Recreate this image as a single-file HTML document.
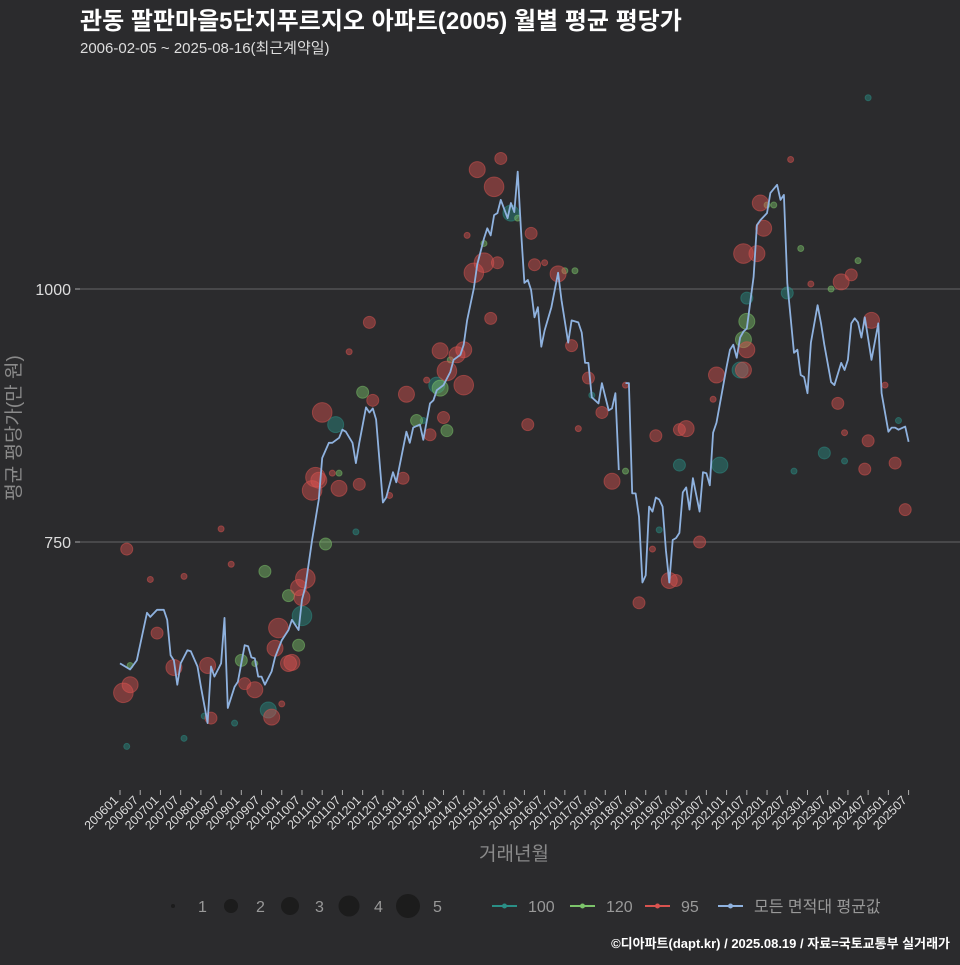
<!DOCTYPE html>
<html><head><meta charset="utf-8">
<style>
html,body{margin:0;padding:0;background:#2b2b2d;}
body{width:960px;height:960px;overflow:hidden;font-family:"Liberation Sans","Noto Sans CJK KR",sans-serif;}
svg text{font-family:"Liberation Sans","Noto Sans CJK KR",sans-serif;}
</style></head>
<body>
<svg id="chart" width="960" height="960" xmlns="http://www.w3.org/2000/svg">
<rect x="0" y="0" width="960" height="960" fill="#2b2b2d"/>
<text x="80" y="29" font-size="24" font-weight="bold" fill="#ffffff">관동 팔판마을5단지푸르지오 아파트(2005) 월별 평균 평당가</text>
<text x="80" y="53" font-size="15" fill="#dddddd">2006-02-05 ~ 2025-08-16(최근계약일)</text>
<g id="grid"></g>
<g id="yticks"></g>
<g id="xticks"></g>
<g id="bubbles"></g>
<g id="line"></g>
<text x="20" y="428" font-size="19" fill="#8a8a8a" text-anchor="middle" transform="rotate(-90 20 428)">평균 평당가(만 원)</text>
<text x="514" y="860" font-size="19" fill="#8a8a8a" text-anchor="middle">거래년월</text>
<g id="legend"></g>
<text x="950" y="948" font-size="13" font-weight="bold" fill="#ffffff" text-anchor="end">©디아파트(dapt.kr) / 2025.08.19 / 자료=국토교통부 실거래가</text>
</svg>
<script>
// month index 0 = 2006-01
const lineMonths = [0,3,5,8,9,11,13,14,15,16,17,18,20,21,23,24,26,27,28,30,31,32,34,35,37,38,39,40,41,42,43,45,46,48,50,51,53,54,55,57,59,60,62,63,65,66,67,69,70,71,73,74,75,76,78,79,81,82,85,86,87,89,90,92,93,94,96,98,99,101,102,103,105,106,108,109,110,111,112,113,115,116,117,118,119,120,121,122,123,124,125,126,128,130,131,133,134,136,137,138,139,140,142,143,145,146,147,148,149,150,151,152,153,154,155,156,157,158,159,160,161,162,163,164,165,166,167,168,169,170,172,173,174,175,176,177,180,181,182,183,184,185,186,188,189,190,192,193,195,196,197,198,200,201,202,203,204,205,207,208,209,211,212,214,215,216,217,218,219,220,221,223,225,226,228,229,230,231,233,234];
const lineValues = [630,624,633,680,676,683,683,673,638,633,609,630,643,642,627,607,571,627,617,630,675,586,607,612,648,647,636,635,617,617,609,622,636,653,663,673,663,693,706,752,792,833,848,848,853,861,859,848,828,848,883,878,882,871,789,794,819,809,859,848,863,866,851,887,890,900,905,918,930,935,945,969,1001,1024,1050,1060,1053,1073,1075,1088,1070,1085,1076,1116,1058,1006,1009,999,972,982,943,959,982,1016,989,947,969,967,957,927,927,893,887,907,880,882,897,821,null,907,907,798,798,775,710,717,785,780,794,792,785,742,710,752,754,759,799,804,782,813,780,819,818,806,858,868,923,940,945,932,952,958,961,1012,1063,1068,1075,1095,1103,1088,1093,1006,937,940,915,913,897,947,984,966,945,908,905,927,920,930,966,971,967,952,972,930,966,897,859,863,863,861,864,849];

const b95Months = [1,3,2,11,16,26,27,37,40,45,46,47,50,51,53,54,55,57,58,59,60,65,71,74,75,84,85,92,96,95,97,100,102,102,105,108,110,112,111,106,113,122,123,121,130,134,139,143,146,154,159,166,168,172,165,163,185,189,191,190,186,185,177,214,217,223,213,221,222,230,233,9,19,30,33,48,63,68,80,91,103,126,136,150,158,176,199,205,215,227];
const b95Values = [601,609,743,660,626,628,576,610,604,577,645,665,630,631,705,695,714,801,814,811,878,803,807,967,890,813,896,856,873,939,919,935,940,905,1016,1026,971,1026,1101,1118,1129,1055,1024,866,1015,944,912,878,810,690,855,861,862,750,712,712,1035,1035,1060,1085,940,920,915,1007,1014,969,887,822,850,828,782,713,716,763,728,590,818,938,796,910,1053,1026,862,905,743,891,1128,1005,858,905];
const b95Counts = [4,3,2,2,3,3,2,2,3,3,3,4,3,3,3,3,4,4,4,3,4,3,2,2,2,2,3,2,2,3,4,3,3,4,4,4,2,2,4,3,2,2,2,2,3,2,2,2,3,2,2,2,3,2,2,3,4,3,3,3,3,3,3,3,2,3,2,2,2,2,2,1,1,1,1,1,1,1,1,1,1,1,1,1,1,1,1,1,1,1];

const b100Months = [2,19,44,54,64,116,178,184,186,198,209,166,222,94,25,34,70,90,140,160,200,215,231];
const b100Values = [548,556,584,677,866,1075,826,920,991,996,838,826,1189,905,578,571,760,870,895,762,820,830,870];
const b100Counts = [1,1,3,4,3,3,3,3,2,2,2,2,1,3,1,1,1,1,1,1,1,1,1];

const b120Months = [43,36,50,53,61,72,88,97,95,186,185,3,40,65,98,108,118,132,135,150,192,194,202,211,219];
const b120Values = [721,633,697,648,748,898,870,860,902,968,950,628,630,818,930,1045,1070,1018,1018,820,1083,1083,1040,1000,1028];
const b120Counts = [2,2,2,2,2,2,2,2,3,3,3,1,1,1,1,1,1,1,1,1,1,1,1,1,1];

const yTickValues = [750,1000];
const xTickLabels = [];
for (let y=2006;y<=2025;y++){ xTickLabels.push(y+'01'); xTickLabels.push(y+'07'); }
const sizeLegendValues = [1,2,3,4,5];

const NS='http://www.w3.org/2000/svg';
function xS(m){ return 120 + m*3.37; }
function yS(v){ return 289 + (1000-v)*1.012; }
function rS(c){ return [0,3,6,8,9.8,11.3][c]; }
function mk(tag,attrs,parent){ const e=document.createElementNS(NS,tag); for(const k in attrs) e.setAttribute(k,attrs[k]); parent.appendChild(e); return e; }

const grid=document.getElementById('grid'), yt=document.getElementById('yticks');
yTickValues.forEach(v=>{
  const l=mk('line',{x1:76,x2:960,y1:yS(v),y2:yS(v),stroke:'#666',"stroke-width":1},grid);
  
  
  const tk=mk('line',{x1:75,x2:80,y1:yS(v),y2:yS(v),stroke:'#aaa',"stroke-width":1},yt);
  
  
  const t=mk('text',{x:71,y:yS(v)+6,"font-size":16,fill:'#ddd',"text-anchor":'end'},yt);
  t.textContent=v;
  
  
});
const xt=document.getElementById('xticks');
xTickLabels.forEach((lab,i)=>{
  const x=xS(i*6);
  const tk=mk('line',{x1:x,x2:x,y1:790,y2:795,stroke:'#aaa',"stroke-width":1},xt);
  
  
  const t=mk('text',{x:x-1,y:801,"font-size":12.5,fill:'#ddd',"text-anchor":'end',transform:'rotate(-45 '+(x-1)+' 801)'},xt);
  t.textContent=lab;
  
  
});

const bg=document.getElementById('bubbles');
function drawSeries(ms,vs,cs,color,name){
  ms.forEach((m,i)=>{
    const c=mk('circle',{cx:xS(m),cy:yS(vs[i]),r:rS(cs[i]),fill:color,"fill-opacity":0.45,stroke:color,"stroke-opacity":0.5},bg);
    
    
  });
}
drawSeries(b100Months,b100Values,b100Counts,'#2a8f86','bubble-100');
drawSeries(b120Months,b120Values,b120Counts,'#7cc46a','bubble-120');
drawSeries(b95Months,b95Values,b95Counts,'#d9534f','bubble-95');

let d='', pen=false;
lineMonths.forEach((m,i)=>{
  const v=lineValues[i];
  if(v===null){pen=false;return;}
  d+=(pen?'L':'M')+xS(m).toFixed(1)+' '+yS(v).toFixed(1)+' ';
  pen=true;
});
const p=mk('path',{d:d,fill:'none',stroke:'#8fb2df',"stroke-width":1.8,"stroke-linejoin":'round'},document.getElementById('line'));



const lg=document.getElementById('legend');
const sizeX=[173,231,290,349,408];
sizeLegendValues.forEach((s,i)=>{
  const c=mk('circle',{cx:sizeX[i],cy:906,r:[2,7,9,10.5,12][i],fill:'#1c1c1c'},lg);
  
  
  const t=mk('text',{x:sizeX[i]+25,y:912,"font-size":16,fill:'#999'},lg);
  t.textContent=s;
  
  
});
const colorItems=[['100','#2a8f86',492],['120','#7cc46a',570],['95','#d9534f',645],['모든 면적대 평균값','#8fb2df',718]];
colorItems.forEach(it=>{
  const l=mk('line',{x1:it[2],x2:it[2]+25,y1:906,y2:906,stroke:it[1],"stroke-width":2},lg);
  
  
  const c=mk('circle',{cx:it[2]+12.5,cy:906,r:2.5,fill:it[1]},lg);
  
  
  const t=mk('text',{x:it[2]+36,y:912,"font-size":16,fill:'#999'},lg);
  t.textContent=it[0];
  
  
});
</script>
</body></html>
